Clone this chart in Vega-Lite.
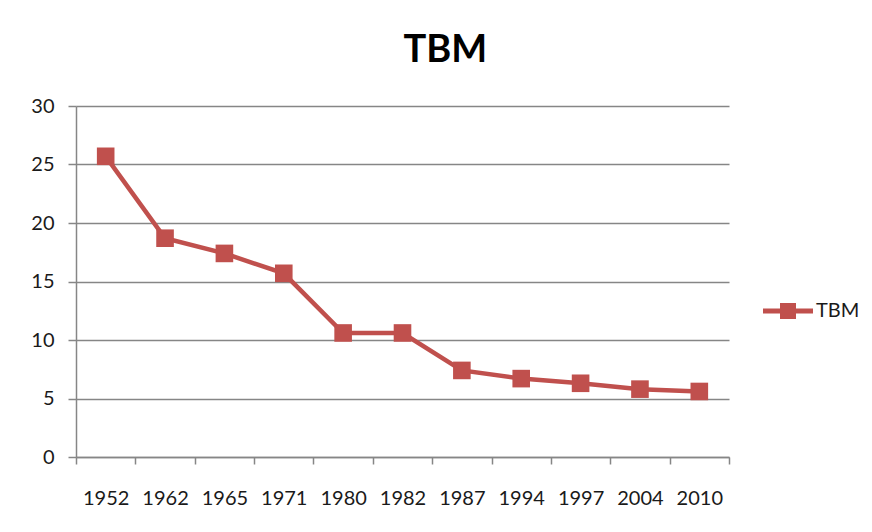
{
  "$schema": "https://vega.github.io/schema/vega-lite/v6.json",
  "width": 653,
  "height": 351,
  "padding": {"left": 30, "top": 32, "right": 5, "bottom": 5},
  "background": "white",
  "title": {
    "text": "TBM",
    "font": "Lato",
    "fontSize": 38,
    "fontWeight": "bold",
    "color": "#000000",
    "anchor": "middle",
    "frame": "bounds",
    "offset": 26
  },
  "data": {
    "values": [
      {"year": "1952", "value": 25.7, "series": "TBM"},
      {"year": "1962", "value": 18.7, "series": "TBM"},
      {"year": "1965", "value": 17.4, "series": "TBM"},
      {"year": "1971", "value": 15.7, "series": "TBM"},
      {"year": "1980", "value": 10.6, "series": "TBM"},
      {"year": "1982", "value": 10.6, "series": "TBM"},
      {"year": "1987", "value": 7.4, "series": "TBM"},
      {"year": "1994", "value": 6.7, "series": "TBM"},
      {"year": "1997", "value": 6.3, "series": "TBM"},
      {"year": "2004", "value": 5.8, "series": "TBM"},
      {"year": "2010", "value": 5.6, "series": "TBM"}
    ]
  },
  "encoding": {
    "x": {
      "field": "year",
      "type": "ordinal",
      "bandPosition": 0.5,
      "scale": {"type": "band", "paddingInner": 0, "paddingOuter": 0},
      "axis": {
        "title": null,
        "labelAngle": 0,
        "grid": false,
        "tickBand": "extent",
        "tickSize": 7,
        "tickColor": "#868686",
        "domainColor": "#868686",
        "domainWidth": 1.5,
        "tickWidth": 1.5,
        "labelPadding": 24,
        "labelFont": "Lato",
        "labelFontSize": 20,
        "labelColor": "#1a1a1a"
      }
    },
    "y": {
      "field": "value",
      "type": "quantitative",
      "scale": {"domain": [0, 30], "nice": false},
      "axis": {
        "title": null,
        "values": [0, 5, 10, 15, 20, 25, 30],
        "grid": true,
        "gridColor": "#868686",
        "gridWidth": 1.5,
        "tickColor": "#868686",
        "tickSize": 8,
        "tickWidth": 1.5,
        "domainColor": "#868686",
        "domainWidth": 1.5,
        "labelPadding": 14,
        "labelFont": "Lato",
        "labelFontSize": 20,
        "labelColor": "#1a1a1a"
      }
    }
  },
  "layer": [
    {
      "mark": {"type": "line", "color": "#C0504D", "strokeWidth": 4.5}
    },
    {
      "mark": {"type": "point", "shape": "square", "filled": true, "size": 310, "opacity": 1},
      "encoding": {
        "color": {
          "field": "series",
          "type": "nominal",
          "scale": {"range": ["#C0504D"]},
          "legend": {
            "title": null,
            "orient": "none",
            "legendX": 687,
            "legendY": 180,
            "symbolType": "M-1,-0.1L1,-0.1L1,0.1L-1,0.1Z M-0.32,-0.32L0.32,-0.32L0.32,0.32L-0.32,0.32Z",
            "symbolSize": 2500,
            "symbolOpacity": 1,
            "symbolStrokeWidth": 0,
            "labelFont": "Lato",
            "labelFontSize": 20,
            "labelColor": "#1a1a1a",
            "labelOffset": 3
          }
        }
      }
    }
  ],
  "config": {
    "view": {"stroke": null}
  }
}
